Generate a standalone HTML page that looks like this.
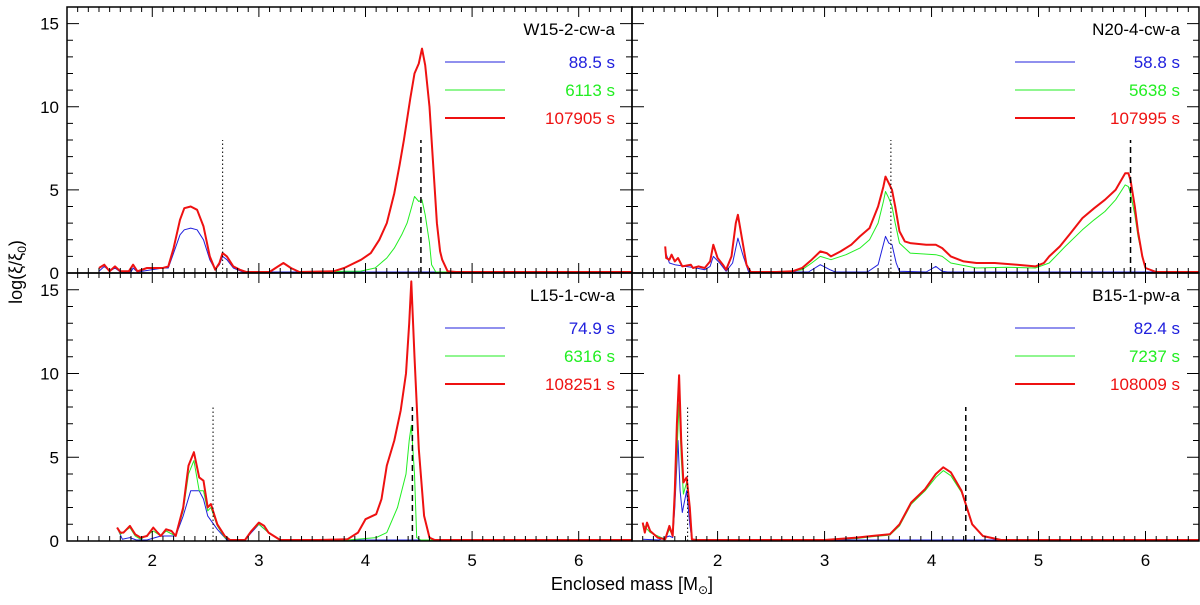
<!DOCTYPE html>
<html><head><meta charset="utf-8"><style>
body{margin:0;background:#fff;}
svg{display:block;font-family:"Liberation Sans","DejaVu Sans",sans-serif;}
</style></head><body>
<svg id="chart" width="1200" height="605" xmlns="http://www.w3.org/2000/svg"></svg>
<script>
// ---- data ----
const panelNames = ["W15-2-cw-a","N20-4-cw-a","L15-1-cw-a","B15-1-pw-a"];
const legendTimes = [["88.5 s","6113 s","107905 s"],["58.8 s","5638 s","107995 s"],["74.9 s","6316 s","108251 s"],["82.4 s","7237 s","108009 s"]];
const xTicks = [2,3,4,5,6];
const yTicks = [0,5,10,15];
const dottedMass = [2.66,3.62,2.57,1.72];
const dashedMass = [4.52,5.86,4.44,4.32];
// W15 series [mass, value]
const w15Red = [[1.5,0.3],[1.55,0.5],[1.6,0.1],[1.65,0.4],[1.7,0.1],[1.78,0.1],[1.82,0.5],[1.86,0.1],[1.95,0.3],[2.1,0.3],[2.15,0.4],[2.2,1.5],[2.26,3.2],[2.3,3.9],[2.36,4.0],[2.42,3.8],[2.48,2.8],[2.54,1.0],[2.59,0.2],[2.63,0.6],[2.66,1.2],[2.7,1.0],[2.76,0.4],[2.82,0.2],[2.88,0],[3.1,0],[3.18,0.4],[3.23,0.6],[3.3,0.3],[3.38,0],[3.7,0.1],[3.8,0.3],[3.96,0.8],[4.05,1.2],[4.13,2.0],[4.2,3.0],[4.27,4.8],[4.32,6.5],[4.36,8.0],[4.42,10.5],[4.46,12.0],[4.5,12.6],[4.53,13.5],[4.56,12.5],[4.6,10],[4.62,8],[4.65,5],[4.67,3],[4.7,1.3],[4.72,0.8],[4.77,0.1],[4.85,0],[6.5,0]];
const w15Green = [[3.6,0],[3.8,0.1],[3.95,0.1],[4.09,0.3],[4.2,0.9],[4.27,1.5],[4.34,2.3],[4.39,3.0],[4.43,3.9],[4.46,4.6],[4.5,4.3],[4.53,4.4],[4.56,3.5],[4.6,1.8],[4.62,0.5],[4.66,0],[6.5,0]];
const w15Blue = [[1.5,0.1],[1.55,0.4],[1.6,0.1],[1.65,0.3],[1.7,0],[1.8,0],[1.82,0.3],[1.86,0],[2.1,0.3],[2.15,0.3],[2.2,1.2],[2.26,2.3],[2.3,2.6],[2.36,2.7],[2.42,2.6],[2.48,2.0],[2.54,0.8],[2.59,0.2],[2.63,0.5],[2.66,1.0],[2.7,0.8],[2.76,0.3],[2.85,0],[6.5,0]];
// N20
const n20Red = [[1.51,1.6],[1.52,0.9],[1.55,0.8],[1.57,1.1],[1.6,0.7],[1.63,0.9],[1.67,0.4],[1.75,0.5],[1.77,0.3],[1.82,0.4],[1.88,0.3],[1.93,0.7],[1.96,1.7],[2.0,0.9],[2.05,0.5],[2.08,0.2],[2.13,1.0],[2.17,3.0],[2.19,3.5],[2.23,2.0],[2.27,0.5],[2.31,0],[2.55,0],[2.7,0.1],[2.79,0.3],[2.88,0.8],[2.96,1.3],[3.02,1.2],[3.06,1.0],[3.15,1.3],[3.25,1.7],[3.33,2.2],[3.42,2.7],[3.5,4.0],[3.55,5.2],[3.57,5.8],[3.6,5.4],[3.63,5.0],[3.66,4.0],[3.7,2.5],[3.75,1.9],[3.8,1.8],[3.95,1.7],[4.04,1.7],[4.1,1.5],[4.18,1.0],[4.3,0.7],[4.42,0.6],[4.59,0.6],[4.8,0.5],[4.97,0.4],[5.05,0.6],[5.1,1.0],[5.2,1.6],[5.3,2.4],[5.41,3.3],[5.52,3.9],[5.62,4.4],[5.72,5.0],[5.81,6.0],[5.84,6.0],[5.86,5.6],[5.9,4.0],[5.93,2.5],[5.97,1.0],[6.0,0.3],[6.1,0],[6.5,0]];
const n20Green = [[2.55,0],[2.7,0.1],[2.79,0.2],[2.88,0.6],[2.96,1.0],[3.06,0.8],[3.2,1.1],[3.33,1.5],[3.42,2.0],[3.5,3.0],[3.55,4.3],[3.57,4.9],[3.6,4.5],[3.63,4.0],[3.66,3.0],[3.7,1.8],[3.8,1.2],[4.04,1.1],[4.1,1.0],[4.18,0.6],[4.42,0.3],[4.7,0.35],[4.97,0.3],[5.1,0.6],[5.25,1.6],[5.41,2.6],[5.52,3.2],[5.62,3.7],[5.72,4.4],[5.81,5.3],[5.84,5.2],[5.86,4.8],[5.9,3.5],[5.93,2.2],[5.97,1.0],[6.0,0.3],[6.1,0],[6.5,0]];
const n20Blue = [[1.51,1.3],[1.55,0.6],[1.6,0.5],[1.7,0.4],[1.8,0.3],[1.88,0.2],[1.93,0.4],[1.96,1.0],[2.02,0.6],[2.08,0.1],[2.14,0.6],[2.19,2.1],[2.24,1.0],[2.29,0],[2.85,0],[2.96,0.5],[3.05,0.2],[3.1,0.05],[3.4,0.05],[3.5,0.5],[3.57,2.2],[3.6,1.8],[3.63,1.7],[3.67,0.6],[3.7,0.1],[3.95,0],[4.04,0.4],[4.1,0.1],[4.15,0],[6.5,0]];
// L15
const l15Red = [[1.67,0.8],[1.7,0.5],[1.73,0.5],[1.79,0.9],[1.84,0.4],[1.89,0.2],[1.95,0.3],[2.01,0.8],[2.05,0.5],[2.08,0.3],[2.13,0.7],[2.18,0.6],[2.22,0.3],[2.29,2.0],[2.34,4.5],[2.39,5.3],[2.44,3.8],[2.48,3.6],[2.52,2.0],[2.55,2.2],[2.61,1.0],[2.68,0.3],[2.73,0],[2.87,0],[2.93,0.6],[3.0,1.1],[3.05,0.9],[3.09,0.5],[3.2,0],[3.4,0],[3.56,0.05],[3.83,0.1],[3.93,0.5],[4.0,1.3],[4.1,1.6],[4.15,2.5],[4.2,4.5],[4.27,6.0],[4.33,7.8],[4.38,10],[4.41,13],[4.43,15.5],[4.46,11],[4.5,5.5],[4.55,1.5],[4.6,0.2],[4.65,0],[6.5,0]];
const l15Green = [[1.67,0.8],[1.7,0.4],[1.79,0.8],[1.84,0.3],[1.89,0.1],[2.01,0.6],[2.08,0.3],[2.13,0.6],[2.22,0.3],[2.29,1.8],[2.34,4.0],[2.39,4.8],[2.44,3.0],[2.48,3.0],[2.52,1.8],[2.55,2.0],[2.61,0.9],[2.68,0.2],[2.73,0],[2.87,0],[2.93,0.6],[3.0,1.0],[3.09,0.5],[3.2,0],[3.83,0.05],[4.1,0.2],[4.2,0.5],[4.3,2.0],[4.38,4.0],[4.41,6.0],[4.43,6.9],[4.46,4.0],[4.48,0.2],[4.52,0],[6.5,0]];
const l15Blue = [[1.67,0.8],[1.72,0.1],[1.79,0.2],[1.85,0],[1.95,0],[2.08,0.3],[2.22,0.3],[2.29,1.5],[2.36,3.0],[2.44,3.0],[2.48,2.5],[2.52,1.5],[2.61,0.7],[2.7,0],[2.87,0],[2.93,0.5],[3.0,1.0],[3.09,0.5],[3.2,0],[6.5,0]];
// B15
const b15Red = [[1.3,1.1],[1.32,0.5],[1.34,1.1],[1.37,0.6],[1.44,0.2],[1.51,0.1],[1.55,0.9],[1.58,0.3],[1.6,3],[1.62,7],[1.64,9.9],[1.66,6],[1.68,3.5],[1.71,3.8],[1.74,2],[1.76,0.1],[1.8,0],[3.0,0],[3.3,0.2],[3.44,0.3],[3.61,0.4],[3.7,1.0],[3.81,2.3],[3.94,3.1],[4.04,4.0],[4.11,4.4],[4.18,4.1],[4.28,3.0],[4.38,1.0],[4.48,0.3],[4.65,0.05],[4.75,0],[6.5,0]];
const b15Green = [[1.3,1.0],[1.37,0.5],[1.51,0.1],[1.55,0.7],[1.58,0.3],[1.6,2.5],[1.64,8.2],[1.66,5],[1.68,2.8],[1.71,3.5],[1.74,1.8],[1.76,0.1],[1.8,0],[3.0,0],[3.3,0.15],[3.44,0.25],[3.61,0.35],[3.7,0.9],[3.81,2.2],[3.94,3.0],[4.04,3.8],[4.11,4.2],[4.18,3.9],[4.28,2.9],[4.38,1.0],[4.48,0.3],[4.65,0.05],[4.75,0],[6.5,0]];
const b15Blue = [[1.3,0.1],[1.45,0],[1.55,0.3],[1.58,0.2],[1.6,2.0],[1.63,6.0],[1.65,3.0],[1.67,1.7],[1.71,3.0],[1.74,1.0],[1.76,0],[6.5,0]];
const panelSeries = [[w15Blue,w15Green,w15Red],[n20Blue,n20Green,n20Red],[l15Blue,l15Green,l15Red],[b15Blue,b15Green,b15Red]];

// ---- layout ----
const NS="http://www.w3.org/2000/svg";
const svg=document.getElementById('chart');
const XMIN=1.2,XMAX=6.5,YMIN=0,YMAX=16;
const panels=[{x0:67,x1:632,y0:7,y1:273},{x0:632,x1:1199,y0:7,y1:273},{x0:67,x1:632,y0:273,y1:541},{x0:632,x1:1199,y0:273,y1:541}];
const colors=["#2020dd","#22ee22","#ee1111"];
const widths=[1,1,2];
function mk(tag,attrs,parent){const e=document.createElementNS(NS,tag);for(const k in attrs)e.setAttribute(k,attrs[k]);(parent||svg).appendChild(e);return e;}
panels.forEach((p,i)=>{
  const sx=m=>p.x0+(m-XMIN)/(XMAX-XMIN)*(p.x1-p.x0);
  const sy=v=>p.y1-(v-YMIN)/(YMAX-YMIN)*(p.y1-p.y0);
  const g=mk('g',{});
  
  
  // series
  panelSeries[i].forEach((s,k)=>{
    const pts=s.map(d=>sx(d[0]).toFixed(1)+','+Math.min(sy(d[1]),p.y1-1).toFixed(1)).join(' ');
    const pl=mk('polyline',{points:pts,fill:'none',stroke:colors[k],'stroke-width':widths[k],'stroke-linejoin':'round'},g);
    
    
  });
  // dotted / dashed markers
  const dl=mk('line',{x1:sx(dottedMass[i]),x2:sx(dottedMass[i]),y1:sy(0),y2:sy(8),stroke:'#000','stroke-width':1,'stroke-dasharray':'1.5,2.5'},g);
  
  
  const dd=mk('line',{x1:sx(dashedMass[i]),x2:sx(dashedMass[i]),y1:sy(0),y2:sy(8),stroke:'#000','stroke-width':1.5,'stroke-dasharray':'6,4'},g);
  
  
  // frame
  const fr=mk('rect',{x:p.x0,y:p.y0,width:p.x1-p.x0,height:p.y1-p.y0,fill:'none',stroke:'#000','stroke-width':1.5},g);
  
  
  // x ticks
  for(let t=12;t<=65;t++){const m=t/10;const X=sx(m);const maj=t%10===0;const L=maj?10:5;
    mk('line',{x1:X,x2:X,y1:p.y1,y2:p.y1-L,stroke:'#000','stroke-width':1},g);
    mk('line',{x1:X,x2:X,y1:p.y0,y2:p.y0+L,stroke:'#000','stroke-width':1},g);}
  // y ticks
  for(let v=0;v<=15;v++){const Y=sy(v);const maj=v%5===0;const L=maj?12:6;
    mk('line',{x1:p.x0,x2:p.x0+L,y1:Y,y2:Y,stroke:'#000','stroke-width':1},g);
    mk('line',{x1:p.x1,x2:p.x1-L,y1:Y,y2:Y,stroke:'#000','stroke-width':1},g);}
  if(i%2===0){yTicks.forEach(v=>{const t=mk('text',{x:p.x0-8,y:sy(v)+6,'text-anchor':'end','font-size':17},g);t.textContent=v;
    
    });}
  if(i>=2){xTicks.forEach(v=>{const t=mk('text',{x:sx(v),y:p.y1+25,'text-anchor':'middle','font-size':17},g);t.textContent=v;
    
    });}
  // legend
  const right=(i%2===0)?615:1180;
  const lx0=(i%2===0)?445:1015;
  const ttl=mk('text',{x:right,y:p.y0+28,'text-anchor':'end','font-size':17},g);ttl.textContent=panelNames[i];
  
  
  legendTimes[i].forEach((txt,k)=>{const yy=p.y0+55+k*28;
    const ln=mk('line',{x1:lx0,x2:lx0+60,y1:yy,y2:yy,stroke:colors[k],'stroke-width':widths[k]},g);
    
    
    const t=mk('text',{x:right,y:yy+6,'text-anchor':'end','font-size':17,fill:colors[k]},g);t.textContent=txt;
    
    });
});
const xt=mk('text',{x:632,y:590,'text-anchor':'middle','font-size':18});
xt.innerHTML='Enclosed mass [M<tspan font-size="12" dy="4">⊙</tspan><tspan dy="-4">]</tspan>';


const yt=mk('text',{x:0,y:0,'text-anchor':'middle','font-size':18,transform:'translate(22,272) rotate(-90)'});
yt.innerHTML='log(ξ/ξ<tspan font-size="12" dy="4">0</tspan><tspan dy="-4">)</tspan>';


</script>
</body></html>
